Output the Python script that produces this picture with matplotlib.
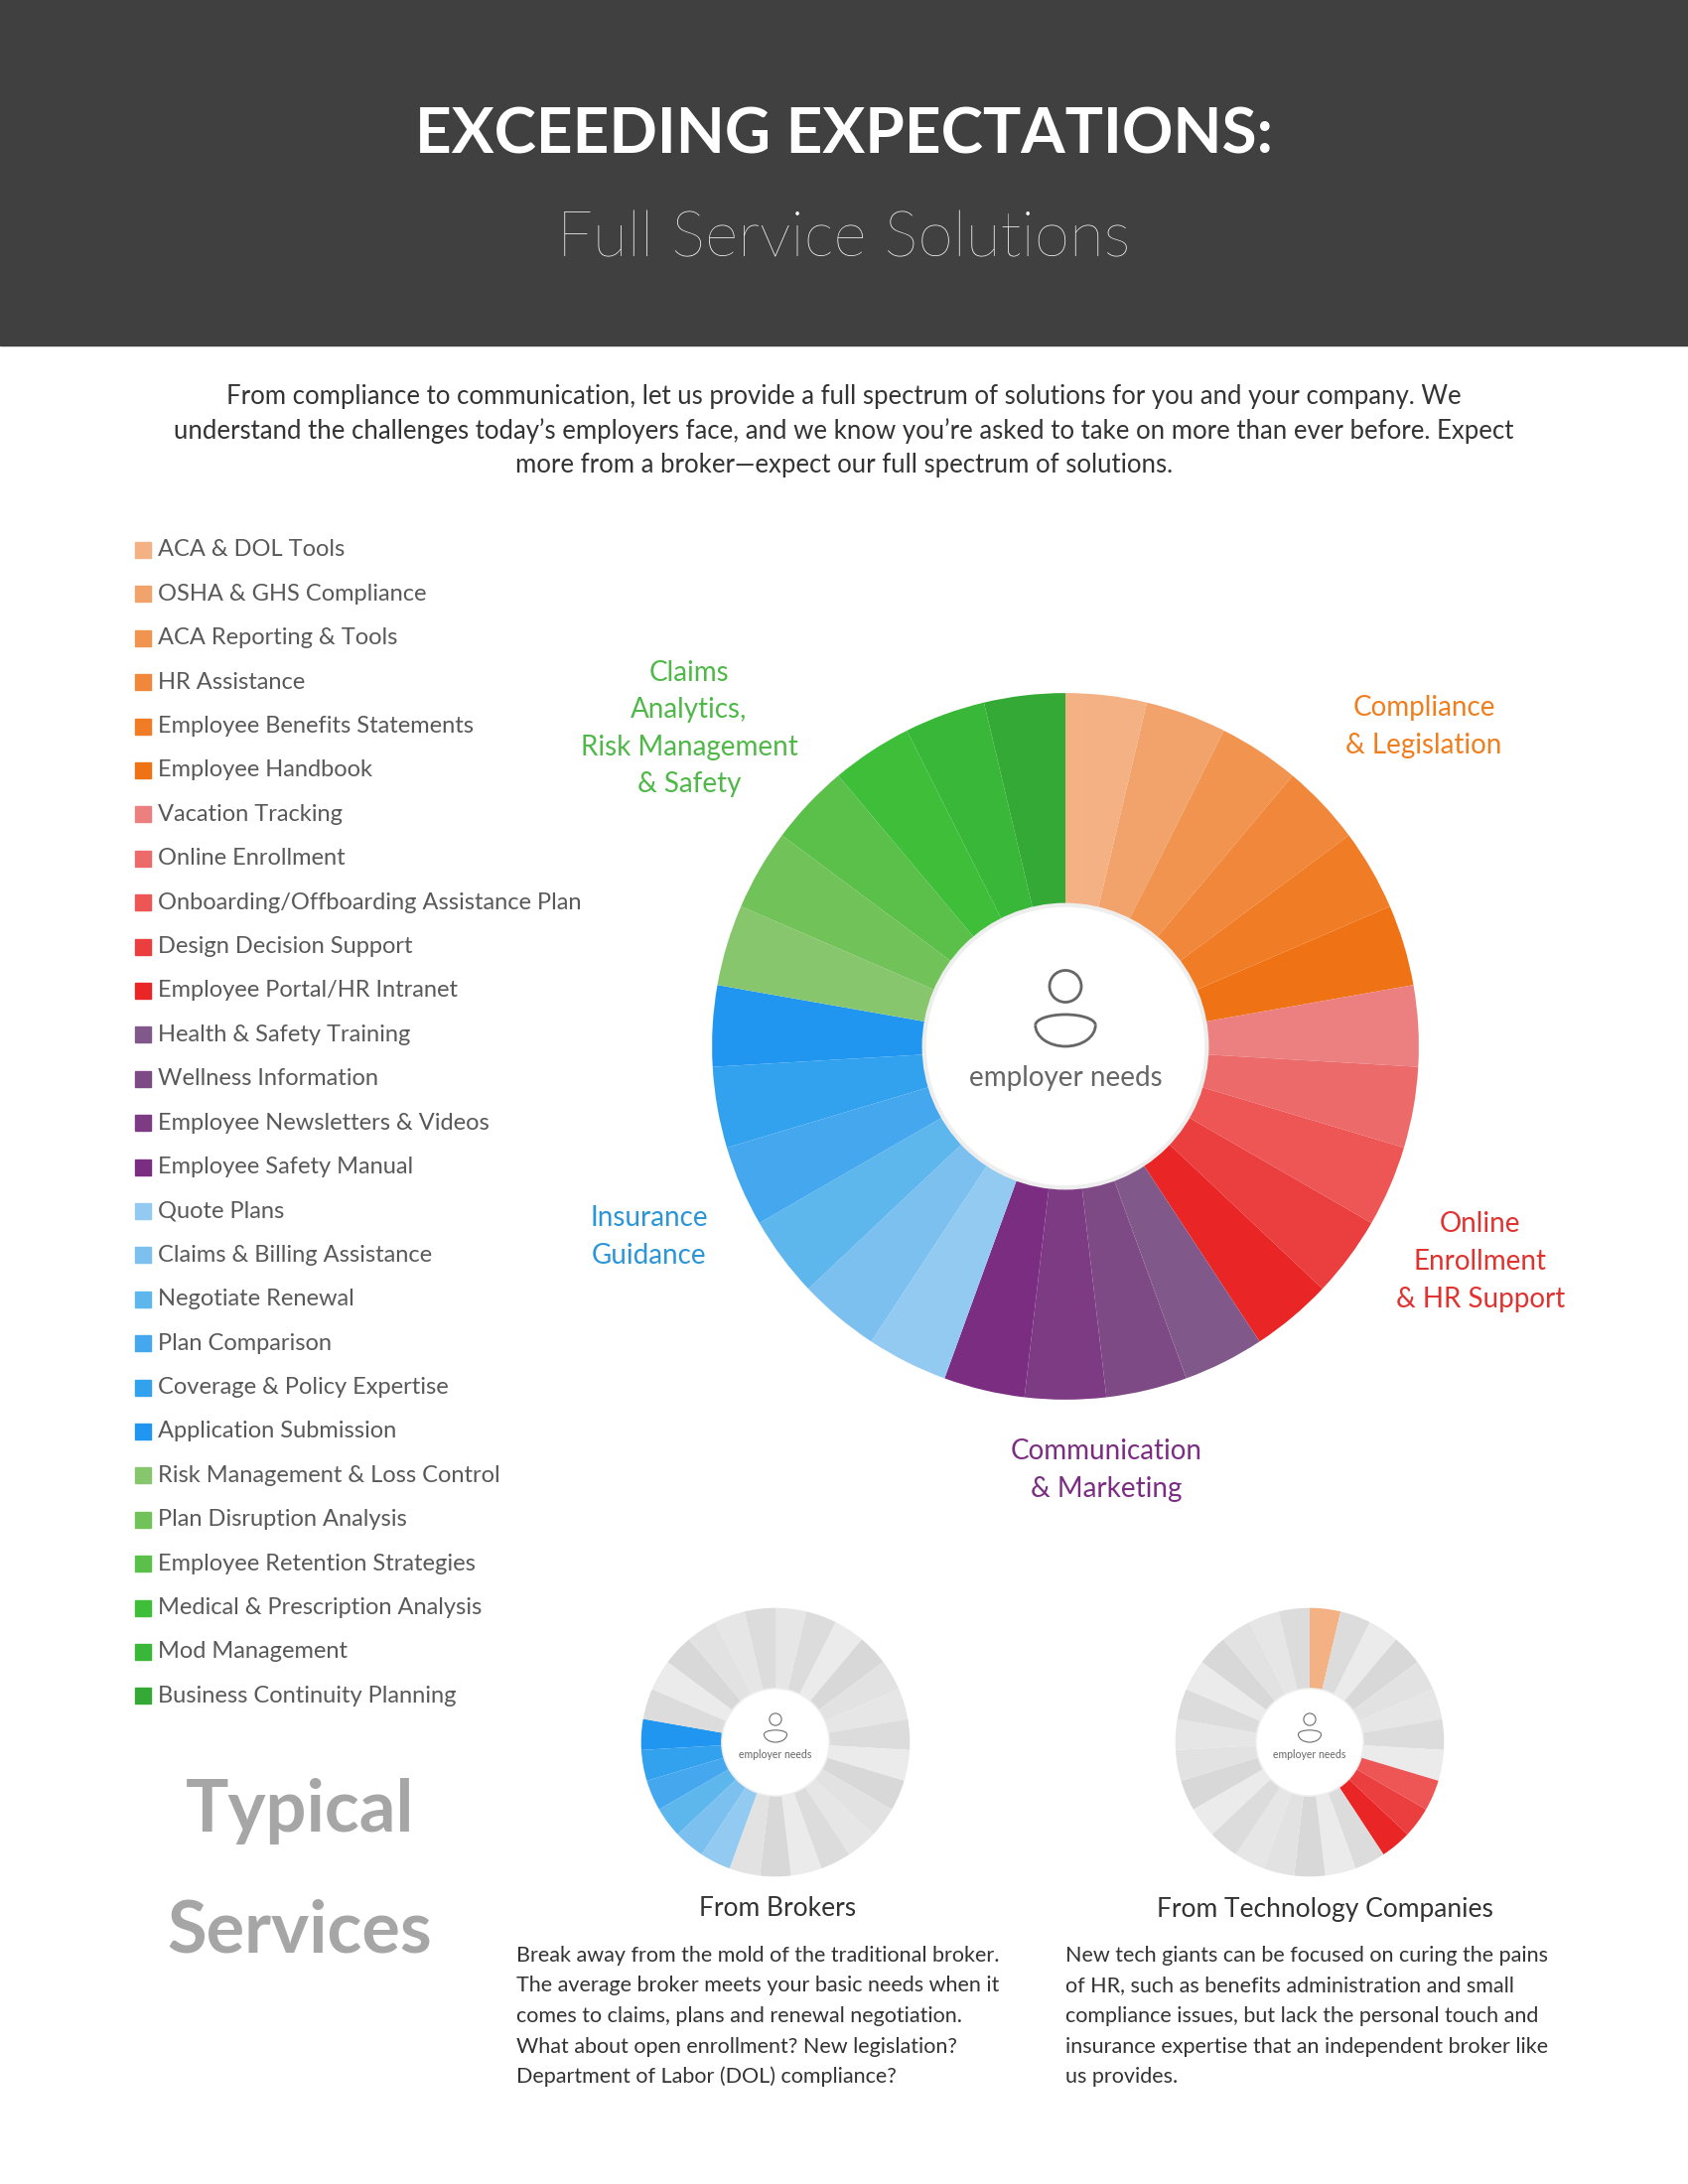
import matplotlib
matplotlib.use("Agg")
import matplotlib.pyplot as plt
from matplotlib.patches import Rectangle, Circle, Arc

plt.rcParams["font.family"] = "Lato"

W, H = 1700, 2200

services = ["ACA & DOL Tools", "OSHA & GHS Compliance", "ACA Reporting & Tools", "HR Assistance",
            "Employee Benefits Statements", "Employee Handbook", "Vacation Tracking", "Online Enrollment",
            "Onboarding/Offboarding Assistance Plan", "Design Decision Support", "Employee Portal/HR Intranet",
            "Health & Safety Training", "Wellness Information", "Employee Newsletters & Videos",
            "Employee Safety Manual", "Quote Plans", "Claims & Billing Assistance", "Negotiate Renewal",
            "Plan Comparison", "Coverage & Policy Expertise", "Application Submission",
            "Risk Management & Loss Control", "Plan Disruption Analysis", "Employee Retention Strategies",
            "Medical & Prescription Analysis", "Mod Management", "Business Continuity Planning"]
service_colors = ["#F4B183", "#F2A36C", "#F19450", "#F0873A", "#F07C25", "#EF7215",
                  "#EC8080", "#EC6A6A", "#EE5656", "#EB3F3F", "#EA2525",
                  "#80598A", "#7E4A85", "#7D3B83", "#7B2D82",
                  "#92CAF1", "#7CC0F0", "#5DB6EC", "#45A8EE", "#32A2EE", "#2196F0",
                  "#88C66E", "#72C25A", "#5BC04A", "#3FBE3A", "#38B738", "#35A935"]
weights = [1] * 27
broker_covered = [15, 16, 17, 18, 19, 20]
tech_covered = [0, 8, 9, 10]
grays = ["#E6E6E6", "#DCDCDC", "#EBEBEB", "#D8D8D8", "#E2E2E2"]

groups = ["Compliance\n& Legislation", "Online\nEnrollment\n& HR Support", "Communication\n& Marketing",
          "Insurance\nGuidance", "Claims\nAnalytics,\nRisk Management\n& Safety"]
group_colors = ["#EF7E1F", "#E0322F", "#7B2D82", "#2A96D8", "#4FB848"]
group_pos = [(1434, 732), (1491, 1271), (1114, 1481), (654, 1246), (694, 734)]

para = ("From compliance to communication, let us provide a full spectrum of solutions for you and your company. We\n"
        "understand the challenges today\u2019s employers face, and we know you\u2019re asked to take on more than ever before. Expect\n"
        "more from a broker\u2014expect our full spectrum of solutions.")
broker_lines = ["Break away from the mold of the traditional broker.",
                "The average broker meets your basic needs when it",
                "comes to claims, plans and renewal negotiation.",
                "What about open enrollment? New legislation?",
                "Department of Labor (DOL) compliance?"]
tech_lines = ["New tech giants can be focused on curing the pains",
              "of HR, such as benefits administration and small",
              "compliance issues, but lack the personal touch and",
              "insurance expertise that an independent broker like",
              "us provides."]

fig = plt.figure(figsize=(17, 22), dpi=100)
ax = fig.add_axes([0, 0, 1, 1])
ax.set_xlim(0, W); ax.set_ylim(H, 0); ax.axis("off")

ax.add_patch(Rectangle((0, 0), W, 348, color="#404040"))
ax.text(850, 136, "EXCEEDING EXPECTATIONS:", color="white", fontsize=46, fontweight="bold",
        ha="center", va="center")
ax.text(850, 241, "Full Service Solutions", color="white", fontsize=46, fontweight="light",
        ha="center", va="center")
ax.text(850, 434, para, color="#333333", fontsize=18.5, ha="center", va="center", linespacing=1.45)

for i, (s, c) in enumerate(zip(services, service_colors)):
    y = 554 + i * 44.4
    ax.add_patch(Rectangle((136, y - 8), 16, 16, color=c))
    ax.text(159, y, s, color="#595959", fontsize=17, va="center")

for g, c, (x, y) in zip(groups, group_colors, group_pos):
    ax.text(x, y, g, color=c, fontsize=20, ha="center", va="center", linespacing=1.55)

ax.text(302, 1824, "Typical", color="#A6A6A6", fontsize=52, fontweight="bold", ha="center", va="center")
ax.text(302, 1946, "Services", color="#A6A6A6", fontsize=52, fontweight="bold", ha="center", va="center")

ax.text(783, 1923, "From Brokers", color="#333333", fontsize=19, ha="center", va="center")
ax.text(1334, 1923, "From Technology Companies", color="#333333", fontsize=19, ha="center", va="center")
for i, (a, b) in enumerate(zip(broker_lines, tech_lines)):
    y = 1970 + i * 30.5
    ax.text(520, y, a, color="#333333", fontsize=15.5, va="center")
    ax.text(1073, y, b, color="#333333", fontsize=15.5, va="center")


def donut(cx, cy, r, colors, scale):
    pa = fig.add_axes([(cx - r) / W, 1 - (cy + r) / H, 2 * r / W, 2 * r / H])
    pa.pie(weights, colors=colors, startangle=90, counterclock=False, radius=1,
           wedgeprops=dict(width=0.61, linewidth=0))
    pa.add_patch(Circle((0, 0), 0.40, facecolor="white", edgecolor="#EEEEEE", lw=3 * scale))
    pa.add_patch(Circle((0, 0.17), 0.045, fill=False, edgecolor="#666666", lw=2 * scale))
    pa.add_patch(Arc((0, 0.06), 0.17, 0.12, theta1=180, theta2=360, edgecolor="#666666", lw=2 * scale))
    pa.add_patch(Arc((0, 0.06), 0.17, 0.06, theta1=0, theta2=180, edgecolor="#666666", lw=2 * scale))
    pa.text(0, -0.09, "employer needs", color="#666666", fontsize=20 * scale, ha="center", va="center")
    pa.set_xlim(-1.02, 1.02); pa.set_ylim(-1.02, 1.02); pa.set_aspect("equal"); pa.axis("off")


donut(1073, 1054, 363, service_colors, 1.0)
bc = [service_colors[i] if i in broker_covered else grays[i % len(grays)] for i in range(27)]
tc = [service_colors[i] if i in tech_covered else grays[i % len(grays)] for i in range(27)]
donut(781, 1755, 138, bc, 0.38)
donut(1319, 1755, 138, tc, 0.38)

fig.savefig("out.png", dpi=100, facecolor="white")
